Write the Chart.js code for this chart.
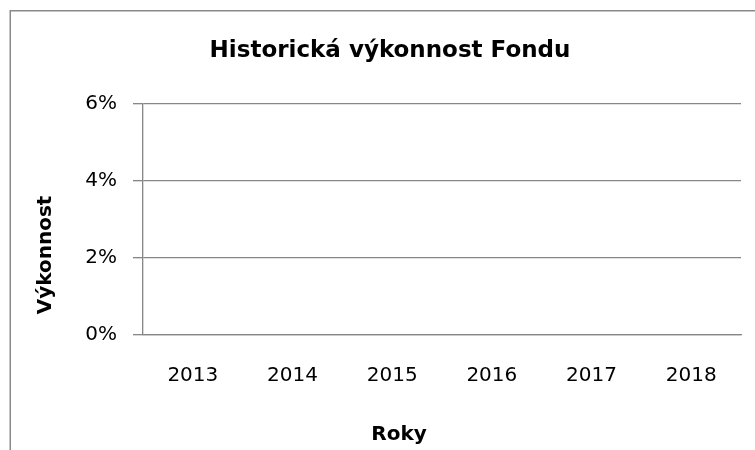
<!DOCTYPE html>
<html>
<head>
<meta charset="utf-8">
<script src="https://cdn.jsdelivr.net/npm/chart.js@4/dist/chart.umd.min.js"></script>
<style>
  html, body { margin: 0; padding: 0; background: #ffffff; }
  canvas { display: block; }
</style>
</head>
<body>
<canvas id="c" width="755" height="450"></canvas>
<script>
// ---- data ----
const categories = ['2013', '2014', '2015', '2016', '2017', '2018'];
const performance = [null, null, null, null, null, null];
const yTickValues = [0, 0.02, 0.04, 0.06];
const chartTitle = 'Historická výkonnost Fondu';
const xTitle = 'Roky';
const yTitle = 'Výkonnost';

const GRAY = '#878787';
const FONT = 'DejaVu Sans';

const frameAndTitles = {
  id: 'frameAndTitles',
  beforeDraw(chart) {
    const ctx = chart.ctx;
    ctx.save();
    ctx.fillStyle = '#ffffff';
    ctx.fillRect(0, 0, chart.width, chart.height);
    ctx.strokeStyle = '#898989';
    ctx.lineWidth = 1.5;
    ctx.beginPath();
    ctx.moveTo(10.25, chart.height + 5);
    ctx.lineTo(10.25, 10.75);
    ctx.lineTo(chart.width + 5, 10.75);
    ctx.stroke();
    ctx.restore();
  },
  afterDraw(chart) {
    const ctx = chart.ctx;
    ctx.save();
    ctx.fillStyle = '#000000';
    ctx.font = 'bold 20px "' + FONT + '"';
    ctx.textAlign = 'center';
    ctx.textBaseline = 'middle';
    ctx.fillText(xTitle, 399, 435);
    ctx.translate(46, 255);
    ctx.rotate(-Math.PI / 2);
    ctx.fillText(yTitle, 0, 0);
    ctx.restore();
  }
};

new Chart(document.getElementById('c'), {
  type: 'bar',
  data: {
    labels: categories,
    datasets: [{ label: yTitle, data: performance, backgroundColor: '#4f81bd' }]
  },
  options: {
    responsive: false,
    animation: false,
    layout: { padding: { left: 25, right: 0, top: 0, bottom: 0 } },
    plugins: {
      legend: { display: false },
      tooltip: { enabled: false },
      title: {
        display: true,
        text: chartTitle,
        color: '#000000',
        font: { family: FONT, size: 23, weight: 'bold' },
        padding: { top: 37.7, bottom: 38.7 }
      }
    },
    scales: {
      x: {
        position: 'bottom',
        grid: { display: false, drawTicks: false },
        border: { display: true, color: GRAY, width: 1.33 },
        ticks: { color: '#000000', font: { family: FONT, size: 20 }, padding: 29, maxRotation: 0 },
        afterFit(s) { s.height = 115; }
      },
      y: {
        position: 'left',
        min: 0,
        max: 0.06,
        afterBuildTicks(s) { s.ticks = yTickValues.map(v => ({ value: v })); },
        grid: { color: GRAY, lineWidth: 1.33, drawTicks: true, tickLength: 10 },
        border: { display: true, color: GRAY, width: 1.33 },
        ticks: {
          color: '#000000',
          font: { family: FONT, size: 20 },
          padding: 16,
          callback: v => Math.round(v * 100) + '%'
        },
        afterFit(s) { s.width = 118; }
      },
      y2: {
        position: 'right',
        display: true,
        grid: { display: false, drawTicks: false },
        border: { display: false },
        ticks: { display: false },
        afterFit(s) { s.width = 14; }
      }
    }
  },
  plugins: [frameAndTitles]
});
</script>
</body>
</html>
